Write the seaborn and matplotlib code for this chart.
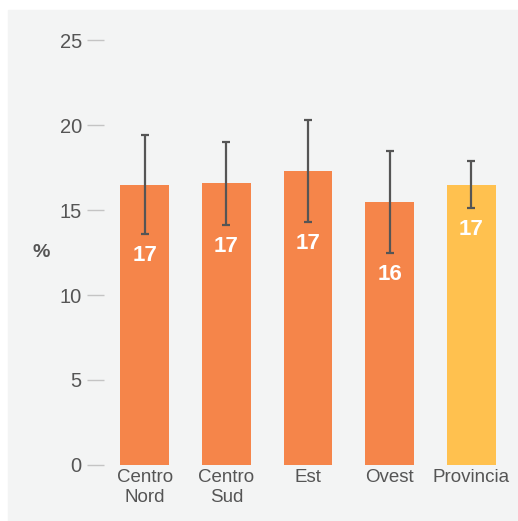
import matplotlib
matplotlib.use("Agg")
import matplotlib.pyplot as plt
import seaborn as sns
import pandas as pd

# values
zones = ["Centro\nNord", "Centro\nSud", "Est", "Ovest", "Provincia"]
pct = [16.5, 16.6, 17.3, 15.5, 16.5]
ci_low = [13.6, 14.1, 14.3, 12.5, 15.1]
ci_high = [19.4, 19.0, 20.3, 18.5, 17.9]
bar_labels = ["17", "17", "17", "16", "17"]
bar_colors = ["#f5854a", "#f5854a", "#f5854a", "#f5854a", "#ffc14f"]

df = pd.DataFrame({"zona": zones, "pct": pct})

sns.set_style("white")
plt.rcParams["font.family"] = ["Liberation Sans", "DejaVu Sans"]

fig = plt.figure(figsize=(5.18, 5.21), dpi=100)
fig.patch.set_facecolor("white")
# grey panel behind the chart
fig.add_artist(plt.Rectangle((8 / 518, 0), 1, 1 - 10 / 521,
                             transform=fig.transFigure, color="#f3f4f4", zorder=-10))
ax = fig.add_axes([0.2008, 0.1075, 0.7876, 0.8157])
ax.set_facecolor("none")

sns.barplot(data=df, x="zona", y="pct", hue="zona", palette=bar_colors,
            width=0.6, legend=False, ax=ax, saturation=1, linewidth=0)

xs = range(len(zones))
lower = [p - l for p, l in zip(pct, ci_low)]
upper = [h - p for p, h in zip(pct, ci_high)]
ax.errorbar(xs, pct, yerr=[lower, upper], fmt="none", ecolor="#555555",
            elinewidth=1.6, capsize=2.6, capthick=1.6, zorder=3)

for x, lo, lab in zip(xs, ci_low, bar_labels):
    ax.annotate(lab, (x, lo), xytext=(0, -8), textcoords="offset points",
                ha="center", va="top", color="white", fontsize=16, fontweight="bold")

ax.set_ylim(0, 25)
ax.set_xlim(-0.5, 4.5)
ax.set_yticks([0, 5, 10, 15, 20, 25])
ax.tick_params(axis="y", length=12, width=1, color="#c4c4c4", pad=4,
               labelsize=14.5, labelcolor="#555555", left=True)
ax.tick_params(axis="x", length=0, pad=3, labelsize=13.5, labelcolor="#555555")
ax.set_xlabel("")
ax.set_ylabel("%", rotation=0, fontsize=14, fontweight="bold", color="#555555",
              va="center", ha="center")
ax.yaxis.set_label_coords(-0.155, 0.5)
sns.despine(ax=ax, left=True, bottom=True)

fig.savefig("out.png", dpi=100)
